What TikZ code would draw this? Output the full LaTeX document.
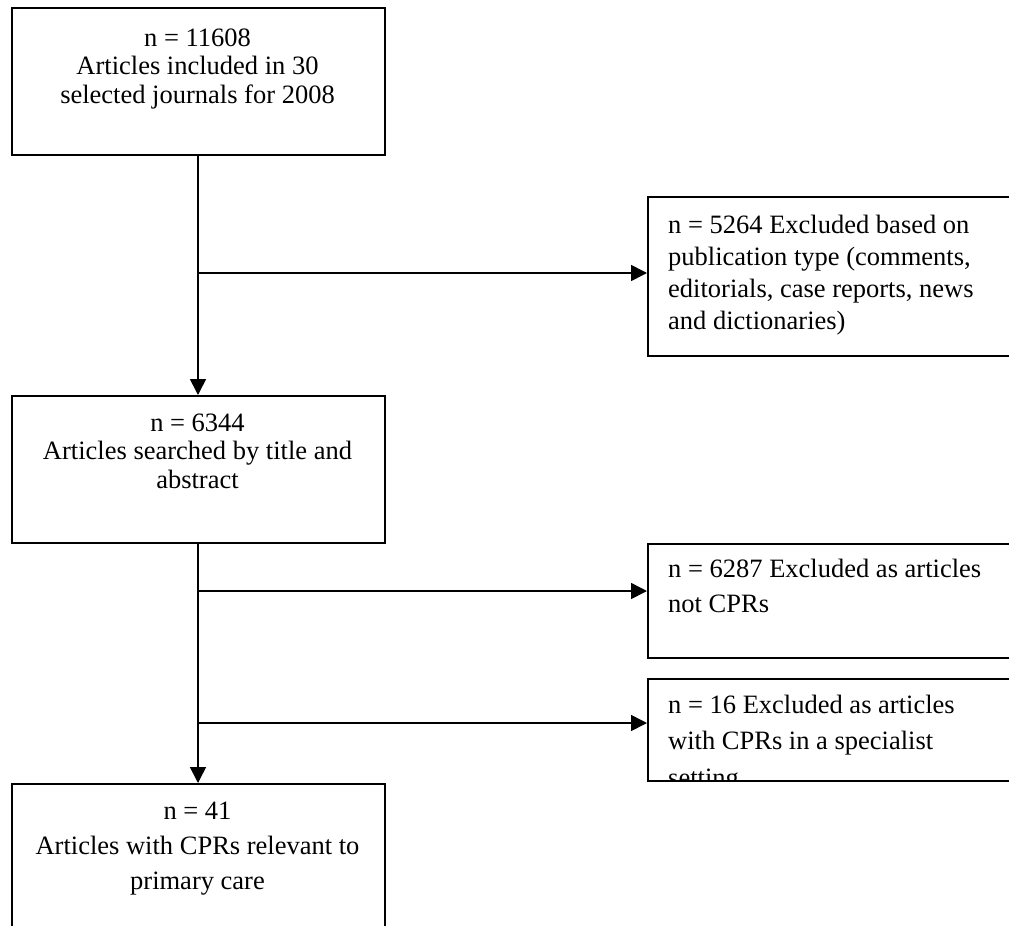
\documentclass[tikz,border=0pt]{standalone}
\usepackage{fontspec}
\setmainfont{Liberation Serif}
\usetikzlibrary{arrows.meta}
\tikzset{
  box/.style={draw=black, line width=1.6pt, anchor=north west, inner sep=0pt, fill=none},
  conn/.style={draw=black, line width=1.6pt},
  arr/.style={conn, -{Triangle[length=16pt,width=16pt]}},
  ctext/.style={inner sep=0pt, anchor=base, align=center},
  ltext/.style={inner sep=0pt, anchor=base west, align=left},
}
\begin{document}
\begin{tikzpicture}[x=1pt,y=1pt]
\useasboundingbox (0,0) rectangle (1009,-926);
\clip (0,0) rectangle (1009,-926);
% left column boxes
\node[box, minimum width=373pt, minimum height=147pt] (b1) at (11,-7) {};
\node[box, minimum width=373pt, minimum height=147pt] (b2) at (11,-395) {};
\node[box, minimum width=373pt, minimum height=160pt] (b3) at (11,-783) {};
% right column boxes (run past the right edge)
\node[box, minimum width=380pt, minimum height=159pt] (r1) at (647,-196) {};
\node[box, minimum width=380pt, minimum height=114pt] (r2) at (647,-543) {};
\node[box, minimum width=380pt, minimum height=102pt] (r3) at (647,-678) {};
% texts (anchored at the baseline of their last line)
\node[ctext, font=\fontsize{26.5}{28.5}\selectfont] (t1) at (197.5,-103)
  {n = 11608\\Articles included in 30\\selected journals for 2008};
\node[ctext, font=\fontsize{26.5}{28.7}\selectfont] (t2) at (197.5,-488.4)
  {n = 6344\\Articles searched by title and\\abstract};
\node[ctext, font=\fontsize{26.5}{35}\selectfont] (t3) at (197.5,-889)
  {n = 41\\Articles with CPRs relevant to\\primary care};
\node[ltext, font=\fontsize{26.5}{32}\selectfont] (tr1) at (668,-329)
  {n = 5264 Excluded based on\\publication type (comments,\\editorials, case reports, news\\and dictionaries)};
\node[ltext, font=\fontsize{26.5}{35}\selectfont] (tr2) at (668,-612)
  {n = 6287 Excluded as articles\\not CPRs};
\begin{scope}
  \clip (r3.north west) rectangle (r3.south east);
  \node[ltext, font=\fontsize{26.5}{36.5}\selectfont] (tr3) at (668,-786)
    {n = 16 Excluded as articles\\with CPRs in a specialist\\setting};
\end{scope}
% junction points on the main vertical line
\coordinate (j1) at (198,-273);
\coordinate (j2) at (198,-591);
\coordinate (j3) at (198,-723);
% connectors
\draw[arr] (b1.south -| j1) -- (b2.north -| j1);
\draw[arr] (b2.south -| j1) -- (b3.north -| j1);
\draw[arr] (j1) -- (r1.west |- j1);
\draw[arr] (j2) -- (r2.west |- j2);
\draw[arr] (j3) -- (r3.west |- j3);
\end{tikzpicture}
\end{document}
